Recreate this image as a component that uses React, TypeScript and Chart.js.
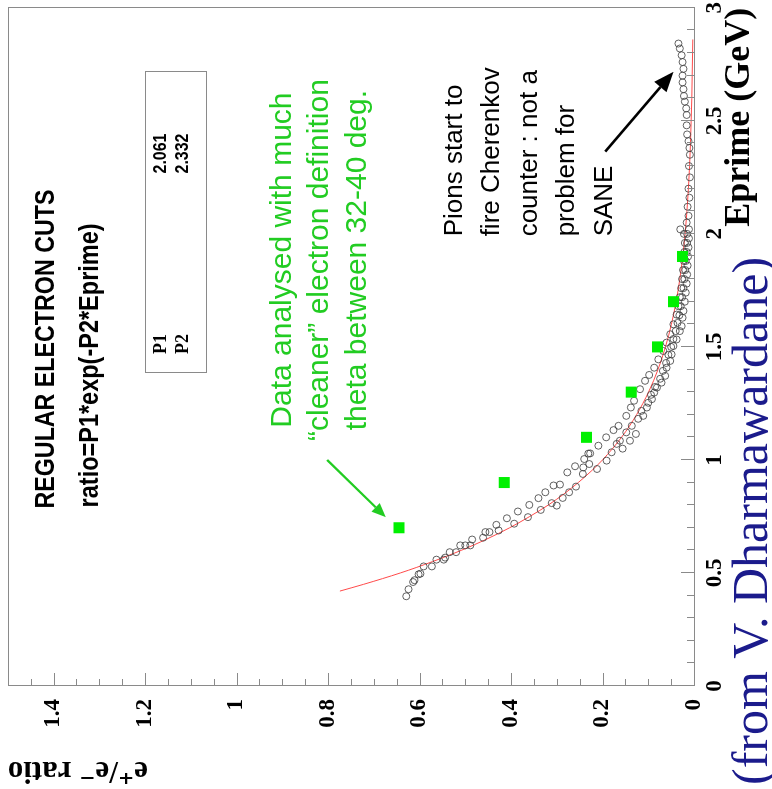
import React, { useEffect, useRef } from "react";
import { Chart, registerables } from "chart.js";
Chart.register(...registerables);

// Unrotated canvas size (the whole figure is shown rotated 90° counter-clockwise)
const W = 789;
const H = 772;

const eprimeTicks = [0, 0.5, 1, 1.5, 2, 2.5, 3];
const ratioTicks = [0, 0.2, 0.4, 0.6, 0.8, 1, 1.2, 1.4];

// Open circles: e+/e- ratio vs Eprime (regular electron cuts)
const circleEprime = [
  0.397, 0.428, 0.46, 0.468, 0.494, 0.497, 0.529, 0.529, 0.559, 0.559, 0.568, 0.592, 0.592, 0.622, 0.622, 0.622,
  0.648, 0.656, 0.681, 0.681, 0.713, 0.688, 0.742, 0.718, 0.772, 0.747, 0.801, 0.831, 0.779, 0.857, 0.809, 0.887,
  0.798, 0.891, 0.832, 0.945, 0.857, 0.972, 0.882, 1.004, 0.938, 1.028,
  0.96, 0.967, 0.982, 0.997, 1.029, 1.034, 1.05, 1.063, 1.071, 1.085, 1.085, 1.1, 1.115, 1.122, 1.132, 1.151, 1.151,
  1.182, 1.195, 1.195, 1.217, 1.232, 1.232, 1.253, 1.262, 1.269, 1.288, 1.298, 1.313, 1.32, 1.323, 1.342, 1.35,
  1.359, 1.372, 1.376, 1.394, 1.408, 1.408, 1.429, 1.438, 1.445, 1.465, 1.467, 1.482, 1.5, 1.504, 1.519, 1.533,
  1.535, 1.556, 1.57, 1.57, 1.592, 1.6, 1.606, 1.629, 1.643, 1.659,
  1.64, 1.68, 1.68, 1.7, 1.72, 1.72, 1.74, 1.76, 1.76, 1.78, 1.8, 1.8, 1.82, 1.84, 1.84, 1.86, 1.88, 1.88, 1.9,
  1.92, 1.92, 1.94, 1.96, 1.96, 1.98, 2.0, 2.0, 2.02, 2.02, 2.05, 2.08, 2.12, 2.16, 2.2, 2.25, 2.3, 2.35, 2.38,
  2.41, 2.44, 2.48, 2.526, 2.555, 2.585, 2.61, 2.64, 2.67, 2.7, 2.73, 2.76, 2.79, 2.82, 2.842,
];
const circleRatio = [
  0.629, 0.624, 0.614, 0.611, 0.602, 0.598, 0.591, 0.573, 0.563, 0.547, 0.544, 0.534, 0.52, 0.511, 0.5, 0.489,
  0.485, 0.461, 0.456, 0.447, 0.432, 0.427, 0.409, 0.393, 0.385, 0.363, 0.36, 0.34, 0.335, 0.325, 0.311, 0.307,
  0.3, 0.293, 0.287, 0.277, 0.273, 0.26, 0.258, 0.24, 0.243, 0.231,
  0.212, 0.242, 0.229, 0.191, 0.227, 0.18, 0.156, 0.209, 0.169, 0.162, 0.14, 0.192, 0.127, 0.148, 0.176, 0.165, 0.136,
  0.122, 0.148, 0.111, 0.115, 0.138, 0.103, 0.1, 0.131, 0.092, 0.094, 0.087, 0.118, 0.081, 0.085, 0.071, 0.107,
  0.074, 0.063, 0.098, 0.068, 0.087, 0.06, 0.061, 0.052, 0.078, 0.056, 0.049, 0.067, 0.05, 0.045, 0.06, 0.038,
  0.045, 0.052, 0.04, 0.031, 0.027, 0.045, 0.036, 0.025, 0.038, 0.023,
  0.032, 0.034, 0.029, 0.02, 0.031, 0.026, 0.018, 0.028, 0.023, 0.016, 0.026, 0.021, 0.015, 0.024, 0.019, 0.014, 0.022, 0.018, 0.013,
  0.021, 0.016, 0.012, 0.02, 0.015, 0.011, 0.022, 0.015, 0.03, 0.011, 0.016, 0.012, 0.014, 0.01, 0.012, 0.009, 0.011, 0.009, 0.01,
  0.012, 0.015, 0.016, 0.016, 0.017, 0.02, 0.022, 0.023, 0.025, 0.025, 0.023, 0.025, 0.027, 0.031, 0.034,
];

// Filled green squares: "cleaner" electron definition, theta 32-40 deg
const squareEprime = [0.7, 0.9, 1.1, 1.3, 1.5, 1.7, 1.9];
const squareRatio = [0.645, 0.415, 0.235, 0.137, 0.08, 0.045, 0.025];

// Red fit curve ratio = P1*exp(-P2*Eprime)
const fitEprime = [0.42, 0.45, 0.5, 0.55, 0.6, 0.65, 0.7, 0.75, 0.8, 0.85, 0.9, 0.95, 1.0, 1.1, 1.2, 1.3, 1.4, 1.5, 1.6, 1.7, 1.8, 1.9, 2.0, 2.2, 2.4, 2.6, 2.86];
const fitRatio = [0.774, 0.722, 0.642, 0.572, 0.509, 0.453, 0.403, 0.359, 0.319, 0.284, 0.253, 0.225, 0.2, 0.1585, 0.1256, 0.0994, 0.0787, 0.0624, 0.0494, 0.0391, 0.031, 0.0245, 0.0194, 0.0122, 0.0077, 0.0048, 0.0026];

const statNames = ["P1", "P2"];
const statValues = ["2.061", "2.332"];

const SERIF = '"Liberation Serif", "DejaVu Serif", serif';
const SANS = '"Liberation Sans", "DejaVu Sans", sans-serif';

function arrow(ctx: CanvasRenderingContext2D, x1: number, y1: number, x2: number, y2: number, color: string, lw: number, hl: number, hw: number) {
  const a = Math.atan2(y2 - y1, x2 - x1);
  const bx = x2 - hl * Math.cos(a);
  const by = y2 - hl * Math.sin(a);
  ctx.strokeStyle = color;
  ctx.fillStyle = color;
  ctx.lineWidth = lw;
  ctx.beginPath();
  ctx.moveTo(x1, y1);
  ctx.lineTo(bx, by);
  ctx.stroke();
  ctx.beginPath();
  ctx.moveTo(x2, y2);
  ctx.lineTo(bx + hw * Math.sin(a), by - hw * Math.cos(a));
  ctx.lineTo(bx - hw * Math.sin(a), by + hw * Math.cos(a));
  ctx.closePath();
  ctx.fill();
}

const frameTicks = {
  id: "frameTicks",
  afterDraw(chart: any) {
    const { ctx, chartArea: a, scales } = chart;
    const x = scales.x;
    const y = scales.y;
    ctx.save();
    ctx.strokeStyle = "#8a8a8a";
    ctx.lineWidth = 1;
    ctx.strokeRect(Math.round(a.left) + 0.5, Math.round(a.top) + 0.5, Math.round(a.right - a.left), Math.round(a.bottom - a.top));
    ctx.beginPath();
    for (let i = 0; i <= 30; i++) {
      const px = Math.round(x.getPixelForValue(i / 10)) + 0.5;
      const len = i % 5 === 0 ? 13 : 7;
      ctx.moveTo(px, a.bottom);
      ctx.lineTo(px, a.bottom - len);
    }
    for (let i = 0; i <= 30; i++) {
      const val = i * 0.05;
      const py = Math.round(y.getPixelForValue(val)) + 0.5;
      const len = i % 4 === 0 ? 13 : 7;
      ctx.moveTo(a.left, py);
      ctx.lineTo(a.left + len, py);
    }
    ctx.stroke();
    ctx.restore();
  },
};

const annotate = {
  id: "annotate",
  afterDraw(chart: any) {
    const { ctx, scales } = chart;
    const x = scales.x;
    const y = scales.y;
    const P = (e: number, r: number): [number, number] => [x.getPixelForValue(e), y.getPixelForValue(r)];
    ctx.save();
    ctx.textBaseline = "alphabetic";
    ctx.textAlign = "left";
    ctx.fillStyle = "#000";

    ctx.font = `bold 27px ${SANS}`;
    let [u, v] = P(0.785, 1.4);
    ctx.fillText("REGULAR ELECTRON CUTS", u, v, 319);

    ctx.font = `bold 27px ${SANS}`;
    [u, v] = P(0.79, 1.303);
    ctx.fillText("ratio=P1*exp(-P2*Eprime)", u, v, 284);

    // stats box
    const [b1u, b1v] = P(1.385, 1.201);
    const [b2u, b2v] = P(2.717, 1.068);
    ctx.strokeStyle = "#8a8a8a";
    ctx.lineWidth = 1;
    ctx.strokeRect(Math.round(b1u) + 0.5, Math.round(b1v) + 0.5, Math.round(b2u - b1u), Math.round(b2v - b1v));
    const rowR = [1.155, 1.105];
    for (let i = 0; i < statNames.length; i++) {
      ctx.font = `bold 18px ${SERIF}`;
      ctx.textAlign = "left";
      [u, v] = P(1.469, rowR[i]);
      ctx.fillText(statNames[i], u, v);
      ctx.font = `bold 19px ${SANS}`;
      ctx.textAlign = "right";
      [u, v] = P(2.444, rowR[i]);
      ctx.fillText(statValues[i], u, v, 40);
    }

    // green note
    ctx.fillStyle = "#22cc22";
    ctx.font = `30px ${SANS}`;
    ctx.textAlign = "center";
    const gLines = ["Data analysed with much", "\u201Ccleaner\u201D electron definition", "theta between 32-40 deg."];
    const gR = [0.882, 0.801, 0.718];
    gLines.forEach((t, i) => {
      const [gu, gv] = P(1.884, gR[i]);
      ctx.fillText(t, gu, gv);
    });
    const [ga1, gb1] = P(1.0, 0.802);
    const [ga2, gb2] = P(0.747, 0.674);
    arrow(ctx, ga1, gb1, ga2, gb2, "#22cc22", 2.2, 14, 6);

    // pions note
    ctx.fillStyle = "#000";
    ctx.font = `26px ${SANS}`;
    ctx.textAlign = "left";
    const pLines = ["Pions start to", "fire Cherenkov", "counter : not a", "problem for", "SANE"];
    const pR = [0.507, 0.426, 0.343, 0.262, 0.179];
    pLines.forEach((t, i) => {
      const [pu, pv] = P(1.989, pR[i]);
      ctx.fillText(t, pu, pv);
    });
    const [ka1, kb1] = P(2.364, 0.194);
    const [ka2, kb2] = P(2.717, 0.045);
    arrow(ctx, ka1, kb1, ka2, kb2, "#000", 2.6, 20, 8);

    // credit
    ctx.fillStyle = "#1b1b8c";
    ctx.font = `50px ${SERIF}`;
    ctx.textAlign = "left";
    ctx.fillText("(from V. Dharmawardane)", 4, 767);
    ctx.restore();
  },
};

export default function App() {
  const ref = useRef<HTMLCanvasElement>(null);
  useEffect(() => {
    document.body.style.margin = "0";
    document.body.style.overflow = "hidden";
    const circles = circleEprime.map((e, i) => ({ x: e, y: circleRatio[i] }));
    const squares = squareEprime.map((e, i) => ({ x: e, y: squareRatio[i] }));
    const fit = fitEprime.map((e, i) => ({ x: e, y: fitRatio[i] }));
    const chart = new Chart(ref.current as HTMLCanvasElement, {
      type: "scatter",
      data: {
        datasets: [
          {
            type: "line",
            label: "fit",
            data: fit,
            borderColor: "#ff4a4a",
            borderWidth: 1,
            pointRadius: 0,
            fill: false,
            cubicInterpolationMode: "monotone",
            order: 3,
          } as any,
          {
            label: "regular cuts",
            data: circles,
            pointStyle: "circle",
            pointRadius: 3.5,
            borderColor: "#3a3a3a",
            borderWidth: 0.8,
            backgroundColor: "rgba(0,0,0,0)",
            order: 2,
          },
          {
            label: "cleaner cuts",
            data: squares,
            pointStyle: "rect",
            pointRadius: 7.8,
            backgroundColor: "#00f000",
            borderColor: "#00f000",
            borderWidth: 0,
            order: 1,
          },
        ],
      },
      options: {
        animation: false,
        responsive: false,
        events: [],
        layout: { padding: { left: 0, right: 6, top: 7, bottom: 0 } },
        plugins: { legend: { display: false }, tooltip: { enabled: false } },
        scales: {
          x: {
            type: "linear",
            position: "bottom",
            min: 0,
            max: 3,
            afterBuildTicks: (s: any) => {
              s.ticks = eprimeTicks.map((value) => ({ value }));
            },
            afterFit: (s: any) => {
              s.height = 78;
              s.paddingLeft = 0;
              s.paddingRight = 0;
            },
            grid: { display: false, drawTicks: false },
            border: { display: false },
            ticks: {
              autoSkip: false,
              maxRotation: 0,
              padding: 7,
              color: "#000",
              font: { family: SERIF, size: 23, weight: "bold" },
              callback: (v: any) => String(v),
            },
            title: {
              display: true,
              text: "Eprime (GeV)",
              align: "end",
              color: "#000",
              font: { family: SERIF, size: 36, weight: "bold" },
              padding: { top: 0, bottom: 11 },
            },
          },
          y: {
            type: "linear",
            position: "left",
            min: 0,
            max: 1.5,
            afterBuildTicks: (s: any) => {
              s.ticks = ratioTicks.map((value) => ({ value }));
            },
            afterFit: (s: any) => {
              s.width = 103;
              s.paddingTop = 0;
              s.paddingBottom = 0;
            },
            grid: { display: false, drawTicks: false },
            border: { display: false },
            ticks: {
              autoSkip: false,
              padding: 13,
              color: "#000",
              font: { family: SERIF, size: 23, weight: "bold" },
              callback: (v: any) => String(v),
            },
            title: {
              display: true,
              text: "e\u207A/e\u207B ratio",
              align: "end",
              color: "#000",
              font: { family: SERIF, size: 31, weight: "bold" },
              padding: { top: 0, bottom: 0 },
            },
          },
        },
      } as any,
      plugins: [frameTicks, annotate],
    });
    return () => chart.destroy();
  }, []);
  return (
    <div style={{ position: "fixed", left: 0, top: 0, width: 772, height: 789, overflow: "hidden", background: "#fff" }}>
      <div
        style={{
          position: "absolute",
          left: 0,
          top: 0,
          width: W,
          height: H,
          transformOrigin: "0 0",
          transform: `translate(0px, ${W}px) rotate(-90deg)`,
        }}
      >
        <canvas ref={ref} width={W} height={H} style={{ width: W, height: H, display: "block" }} />
      </div>
    </div>
  );
}
